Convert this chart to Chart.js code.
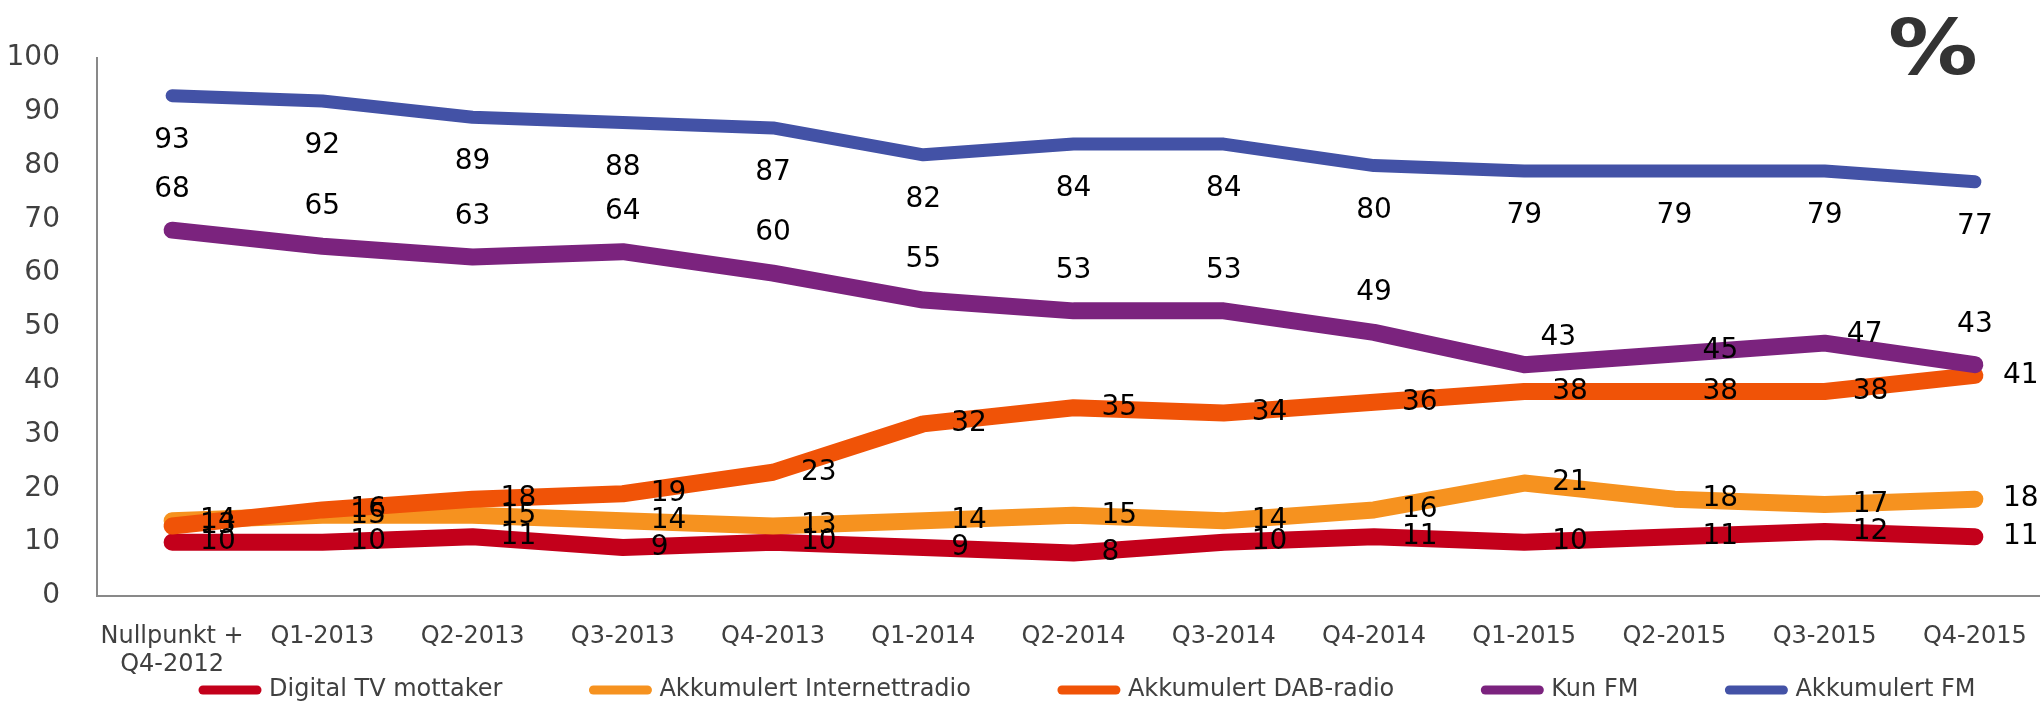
<!DOCTYPE html>
<html><head>
<meta charset="utf-8">
<script src="https://cdn.jsdelivr.net/npm/chart.js@4/dist/chart.umd.min.js"></script>
<style>
  body { margin: 0; background: #fff; overflow: hidden; }
</style>
</head>
<body>
<!-- a bit wider than the window: the original plot runs off the right edge -->
<canvas id="chart" width="2050" height="703"></canvas>
<script>

// categories (x axis)
var categories = [['Nullpunkt +', 'Q4-2012'], 'Q1-2013', 'Q2-2013', 'Q3-2013', 'Q4-2013',
  'Q1-2014', 'Q2-2014', 'Q3-2014', 'Q4-2014', 'Q1-2015', 'Q2-2015', 'Q3-2015', 'Q4-2015'];

// series values (%)
var digitalTv      = [10, 10, 11, 9, 10, 9, 8, 10, 11, 10, 11, 12, 11];
var internettradio = [14, 15, 15, 14, 13, 14, 15, 14, 16, 21, 18, 17, 18];
var dabRadio       = [13, 16, 18, 19, 23, 32, 35, 34, 36, 38, 38, 38, 41];
var kunFm          = [68, 65, 63, 64, 60, 55, 53, 53, 49, 43, 45, 47, 43];
var akkFm          = [93, 92, 89, 88, 87, 82, 84, 84, 80, 79, 79, 79, 77];

// y axis
var yMin = 0, yMax = 100, yStep = 10;

var FONT = '"DejaVu Sans", Verdana, sans-serif';

// labels for a few "Kun FM" points were moved by hand in the original
var kunFmLabelShift = { 9: [34, -27], 10: [46, -3], 11: [40, -8] };

function series(label, data, color, width, order, labelPos, shift) {
  return {
    label: label,
    data: data,
    borderColor: color,
    backgroundColor: color,
    borderWidth: width,
    borderCapStyle: 'round',
    borderJoinStyle: 'round',
    tension: 0,
    pointRadius: 0,
    pointHoverRadius: 0,
    fill: false,
    order: order,
    labelPos: labelPos,
    labelShift: shift || null
  };
}

// data labels next to each point
var valueLabels = {
  id: 'valueLabels',
  afterDatasetsDraw: function(chart) {
    var ctx = chart.ctx;
    ctx.save();
    ctx.font = '28px ' + FONT;
    ctx.fillStyle = '#000000';
    ctx.textBaseline = 'middle';
    chart.data.datasets.forEach(function(ds, di) {
      var meta = chart.getDatasetMeta(di);
      meta.data.forEach(function(pt, i) {
        var txt = String(ds.data[i]);
        var shift = ds.labelShift && ds.labelShift[i];
        if (shift) {
          ctx.textAlign = 'center';
          ctx.fillText(txt, pt.x + shift[0], pt.y + shift[1]);
        } else if (ds.labelPos === 'right') {
          ctx.textAlign = 'left';
          ctx.fillText(txt, pt.x + 28, pt.y);
        } else if (ds.labelPos === 'above') {
          ctx.textAlign = 'center';
          ctx.fillText(txt, pt.x, pt.y - 40);
        } else {
          ctx.textAlign = 'center';
          ctx.fillText(txt, pt.x, pt.y + 45);
        }
      });
    });
    ctx.restore();
  }
};

// big "%" in the top right corner
var percentSign = {
  id: 'percentSign',
  afterDraw: function(chart) {
    var ctx = chart.ctx;
    ctx.save();
    ctx.translate(1933, 54);
    ctx.scale(1.18, 1);
    ctx.font = 'bold 76px ' + FONT;
    ctx.fillStyle = '#333333';
    ctx.textAlign = 'center';
    ctx.textBaseline = 'middle';
    ctx.fillText('%', 0, 0);
    ctx.restore();
  }
};

// move the legend row into the bottom strip
var legendPlace = {
  id: 'legendPlace',
  afterLayout: function(chart) {
    var lg = chart.legend;
    if (!lg) return;
    var pad = lg.options.labels.padding;
    lg.left = 203 - pad;
    lg.right = lg.left + 2200;
    lg.top = 690 - pad - 12;
    lg.bottom = 703;
  }
};

var defaultLabels = Chart.defaults.plugins.legend.labels.generateLabels;

new Chart(document.getElementById('chart'), {
  type: 'line',
  data: {
    labels: categories,
    datasets: [
      series('Digital TV mottaker', digitalTv, '#C3001B', 17, 5, 'right'),
      series('Akkumulert Internettradio', internettradio, '#F6921F', 17, 4, 'right'),
      series('Akkumulert DAB-radio', dabRadio, '#F05307', 17, 3, 'right'),
      series('Kun FM', kunFm, '#7B237E', 17, 2, 'above', kunFmLabelShift),
      series('Akkumulert FM', akkFm, '#4352A6', 13, 1, 'below')
    ]
  },
  options: {
    responsive: false,
    animation: false,
    devicePixelRatio: 1,
    layout: { padding: { top: 58, left: 0, right: 0, bottom: 0 } },
    plugins: {
      title: { display: false },
      tooltip: { enabled: false },
      legend: {
        display: true,
        position: 'bottom',
        align: 'start',
        maxHeight: 1,
        labels: {
          usePointStyle: true,
          pointStyle: 'line',
          pointStyleWidth: 54,
          padding: 91,
          color: '#404040',
          font: { family: FONT, size: 24 },
          sort: function(a, b) { return a.datasetIndex - b.datasetIndex; },
          generateLabels: function(chart) {
            return defaultLabels(chart).map(function(item) {
              item.lineWidth = 9;
              item.lineCap = 'round';
              item.pointStyle = 'line';
              return item;
            });
          }
        }
      }
    },
    scales: {
      x: {
        offset: true,
        grid: { display: false },
        border: { display: true, color: '#898989', width: 2 },
        ticks: {
          color: '#404040',
          font: { family: FONT, size: 24, lineHeight: 1.17 },
          padding: 19,
          autoSkip: false,
          maxRotation: 0
        },
        afterFit: function(scale) { scale.height = 106; }
      },
      y: {
        min: yMin,
        max: yMax,
        grid: { display: false },
        border: { display: true, color: '#898989', width: 2 },
        ticks: {
          stepSize: yStep,
          color: '#404040',
          font: { family: FONT, size: 28 },
          padding: 29
        },
        afterFit: function(scale) { scale.width = 97; }
      }
    }
  },
  plugins: [valueLabels, percentSign, legendPlace]
});
</script>
</body>
</html>
